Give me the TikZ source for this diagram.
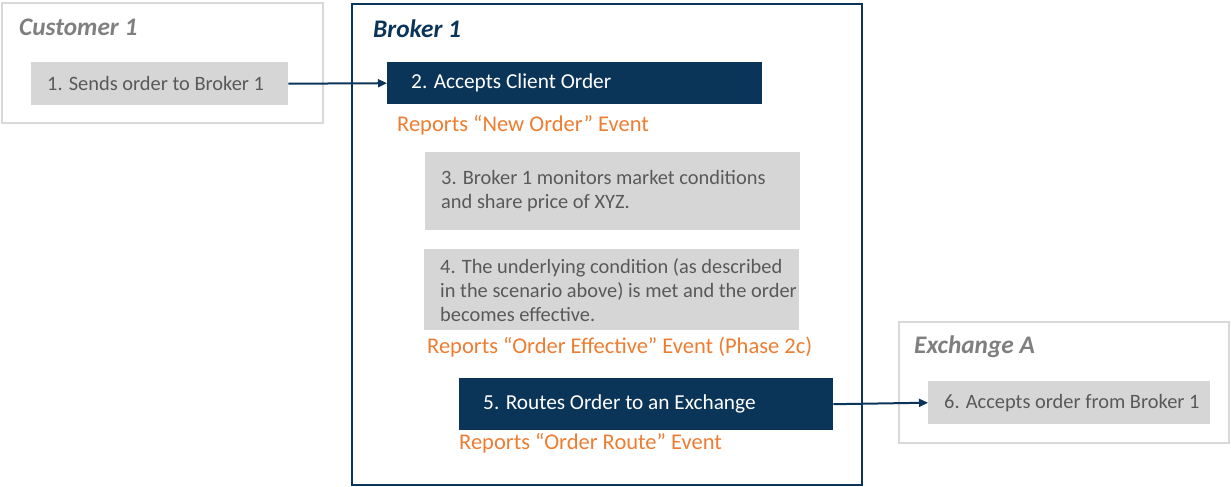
\documentclass[tikz,border=0pt]{standalone}
\usepackage{fontspec}
\setmainfont{Carlito}
\usetikzlibrary{arrows.meta}
\definecolor{navy}{HTML}{0B3558}
\definecolor{boxgray}{HTML}{D6D6D6}
\definecolor{framegray}{HTML}{D9D9D9}
\definecolor{txtgray}{HTML}{595959}
\definecolor{titlegray}{HTML}{7F7F7F}
\definecolor{orng}{HTML}{ED7D31}
\begin{document}
\begin{tikzpicture}[x=1pt,y=-1pt,
  bodyfont/.style={font=\fontsize{20.4}{24}\selectfont},
  whitefont/.style={font=\fontsize{21.3}{25}\selectfont},
  orangefont/.style={font=\fontsize{22.5}{26}\selectfont},
  titlefont/.style={font=\fontsize{25.3}{29}\selectfont\bfseries\itshape},
  frame/.style={draw=framegray,line width=2.5pt},
  bframe/.style={draw=navy,line width=2.5pt},
  gbox/.style={fill=boxgray,draw=none,inner sep=0pt,anchor=north west},
  nbox/.style={fill=navy,draw=none,inner sep=0pt,anchor=north west},
  gtext/.style={bodyfont,text=txtgray,anchor=west,align=left,inner sep=0pt},
  wtext/.style={whitefont,text=white,anchor=west,align=left,inner sep=0pt},
  otext/.style={orangefont,text=orng,anchor=west,inner sep=0pt},
  arr/.style={draw=navy,line width=2pt,-{Triangle[length=9pt,width=8pt]}}
]
\useasboundingbox (0,0) rectangle (1231,487);
% frames
\draw[frame] (2,3) rectangle (323,123);
\draw[bframe] (352,4) rectangle (862,485);
\draw[frame] (899,322) rectangle (1229,443);
% titles
\node[titlefont,text=titlegray,anchor=west,inner sep=0pt] (tc) at (19,27) {Customer 1};
\node[titlefont,text=navy,anchor=west,inner sep=0pt] (tb) at (373,29) {Broker 1};
\node[titlefont,text=titlegray,anchor=west,inner sep=0pt] (te) at (914,347) {Exchange A};
% boxes
\node[gbox,minimum width=257pt,minimum height=43pt] (b1) at (31,62) {};
\node[gtext] (t1) at ([xshift=16pt]b1.west) {1. Sends order to Broker 1};
\node[nbox,minimum width=375pt,minimum height=42pt] (b2) at (387,62) {};
\node[wtext] (t2) at ([xshift=24pt]b2.west) {2. Accepts Client Order};
\node[otext] (o2) at (397,125) {Reports “New Order” Event};
\node[gbox,minimum width=375pt,minimum height=78pt] (b3) at (425,152) {};
\node[gtext] (t3) at ([xshift=16pt]b3.west) {3. Broker 1 monitors market conditions\\and share price of XYZ.};
\node[gbox,minimum width=375pt,minimum height=81pt] (b4) at (424,249) {};
\node[gtext] (t4) at ([xshift=16pt]b4.west) {4. The underlying condition (as described\\in the scenario above) is met and the order\\becomes effective.};
\node[otext] (o4) at (427,347) {Reports “Order Effective” Event (Phase 2c)};
\node[nbox,minimum width=374pt,minimum height=52pt] (b5) at (459,378) {};
\node[wtext] (t5) at ([xshift=24pt]b5.west) {5. Routes Order to an Exchange};
\node[otext] (o5) at (459,443) {Reports “Order Route” Event};
\node[gbox,minimum width=282pt,minimum height=43pt] (b6) at (928,381) {};
\node[gtext] (t6) at ([xshift=16pt]b6.west) {6. Accepts order from Broker 1};
% arrows
\draw[arr] (b1.east) -- (b2.west);
\draw[arr] (b5.east) -- (b6.west);
\end{tikzpicture}
\end{document}
